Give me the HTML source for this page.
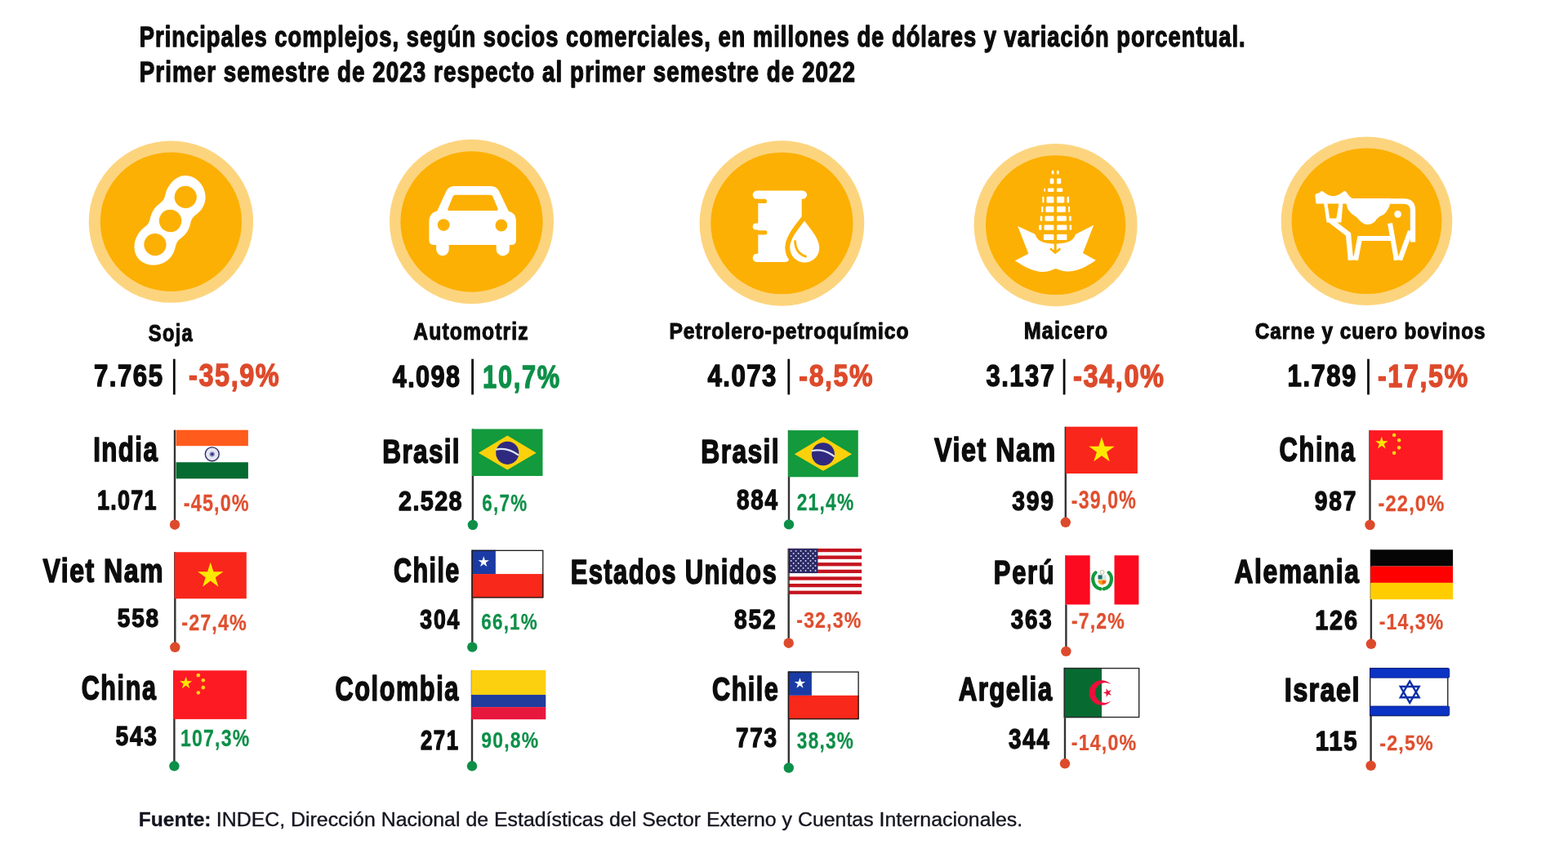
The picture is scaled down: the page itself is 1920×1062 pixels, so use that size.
<!DOCTYPE html>
<html lang="es"><head><meta charset="utf-8"><title>Principales complejos exportadores</title>
<style>
html,body{margin:0;padding:0;background:#fff;width:1920px;height:1062px;overflow:hidden}
svg{display:block;font-family:"Liberation Sans",Arial,sans-serif}

</style></head><body>
<svg width="1920" height="1062" viewBox="0 0 1920 1062">
<text transform="scale(0.7884,1)" x="216.57" y="57.15" font-size="34.67" font-weight="bold" fill="#0c0c0c" stroke="#0c0c0c" stroke-width="1.30" stroke-linejoin="round" textLength="1717.36" lengthAdjust="spacing">Principales complejos, según socios comerciales, en millones de dólares y variación porcentual.</text>
<text transform="scale(0.8129,1)" x="210.06" y="99.65" font-size="34.16" font-weight="bold" fill="#0c0c0c" stroke="#0c0c0c" stroke-width="1.30" stroke-linejoin="round" textLength="1078.01" lengthAdjust="spacing">Primer semestre de 2023 respecto al primer semestre de 2022</text>
<ellipse cx="209.4" cy="271.7" rx="100.7" ry="99.15" fill="#fdd47e"/>
<ellipse cx="209.4" cy="271.7" rx="86.6" ry="85.2" fill="#fcb003"/>
<ellipse cx="577.5" cy="271.5" rx="100.55" ry="100.65" fill="#fdd47e"/>
<ellipse cx="577.5" cy="271.5" rx="87.1" ry="86.15" fill="#fcb003"/>
<ellipse cx="957.4" cy="273.5" rx="100.85" ry="101.15" fill="#fdd47e"/>
<ellipse cx="957.4" cy="273.5" rx="87.1" ry="86.85" fill="#fcb003"/>
<ellipse cx="1292.6" cy="275.6" rx="100.0" ry="99.6" fill="#fdd47e"/>
<ellipse cx="1292.6" cy="275.6" rx="85.65" ry="85.45" fill="#fcb003"/>
<ellipse cx="1673.5" cy="270.85" rx="104.85" ry="103.25" fill="#fdd47e"/>
<ellipse cx="1673.5" cy="270.85" rx="91.95" ry="89.25" fill="#fcb003"/>
<g transform="translate(208.6,270.5) rotate(-57.35)"><path d="M60,-4 C59,-17 49,-24.5 34.5,-24.5 C26,-24.5 22,-21 17,-21 C12,-21 8,-24.5 0,-24.5 C-8,-24.5 -12,-21 -17,-21 C-22,-21 -26,-24.5 -34.5,-24.5 C-50,-24.5 -61,-14 -61,-2 C-61,12 -49,24.5 -34.5,24.5 C-26,24.5 -22,21 -17,21 C-12,21 -8,24.5 0,24.5 C8,24.5 12,21 17,21 C22,21 26,24.5 34.5,24.5 C49,24.5 61,11 60,-4 Z" fill="#ffffff"/><circle cx="34.55" cy="0" r="13.6" fill="#fcb003"/><circle cx="0" cy="0" r="13.7" fill="#fcb003"/><circle cx="-34.55" cy="0" r="13.6" fill="#fcb003"/></g>
<path d="M556,227.9 L601,227.9 Q608.5,227.9 611.5,235 L623,259 L535,259 L546,235 Q549,227.9 556,227.9 Z" fill="#ffffff"/>
<path d="M536,258.5 L622,258.5 Q632,260 632,272 L632,294 Q632,300 626,300 L531.4,300 Q525.4,300 525.4,294 L525.4,272 Q525.4,260 536,258.5 Z" fill="#ffffff"/>
<path d="M534.2,298 L549.7,298 L549.7,305.6 A7.75,7.75 0 0 1 534.2,305.6 Z" fill="#ffffff"/>
<path d="M607.7,298 L623.8,298 L623.8,305.4 A8.05,8.05 0 0 1 607.7,305.4 Z" fill="#ffffff"/>
<path d="M557.5,238.8 L600.5,238.8 Q602.5,238.8 603.3,240.5 L609.8,256 Q610,258 608,258 L550,258 Q548,258 548.3,256 L554.7,240.5 Q555.5,238.8 557.5,238.8 Z" fill="#fcb003"/>
<circle cx="543.2" cy="275.6" r="7.4" fill="#fcb003"/><circle cx="613.9" cy="276" r="7.4" fill="#fcb003"/>
<rect x="921.7" y="233.4" width="66.4" height="10.4" rx="5.2" fill="#ffffff"/>
<rect x="928.3" y="238" width="53.4" height="78" fill="#ffffff"/>
<rect x="921.7" y="273.4" width="20" height="8.2" rx="4.1" fill="#ffffff"/>
<rect x="921.7" y="310.8" width="45" height="10.2" rx="5.1" fill="#ffffff"/>
<rect x="924" y="243.8" width="15" height="5.2" rx="2.6" fill="#fcb003"/>
<rect x="924" y="282.2" width="15.4" height="5.2" rx="2.6" fill="#fcb003"/>
<path d="M985.1,270.5 C980,278 967.3,291 967.3,303.5 A18,18 0 0 0 1003.3,303.5 C1003.3,291 990,278 985.1,270.5 Z" fill="#fcb003" stroke="#fcb003" stroke-width="12" stroke-linejoin="round"/>
<path d="M985.1,270.5 C980,278 967.3,291 967.3,303.5 A18,18 0 0 0 1003.3,303.5 C1003.3,291 990,278 985.1,270.5 Z" fill="#ffffff"/>
<path d="M973.6,295.5 Q974,310 986.5,314.2" fill="none" stroke="#fcb003" stroke-width="2.8" stroke-linecap="round"/>
<path d="M1246.2,277.1 L1270,288 L1293,298 L1315,288 L1339.2,275.8 L1326,310.1 L1341.8,318.7 C1330,327 1318,333 1306,332.5 C1300,332 1296,330 1293,329 C1289,330 1284,333 1278,333 C1266,333 1254,327 1242.9,319.3 L1259.4,310.8 Z" fill="#ffffff"/>
<path d="M1292.2,203.5 C1301,203.5 1318,250 1317,285 C1316.5,295 1306,298.5 1292.2,298.5 C1278,298.5 1268,295 1267.5,285 C1267,250 1284,203.5 1292.2,203.5 Z" fill="#fcb003"/>
<rect x="1287.80" y="208.7" width="2.6" height="4.70" rx="1.2" fill="#ffffff"/><rect x="1294" y="208.7" width="2.6" height="4.70" rx="1.2" fill="#ffffff"/><rect x="1285.70" y="218.5" width="4.7" height="6.80" rx="1.2" fill="#ffffff"/><rect x="1294" y="218.5" width="5.2" height="6.80" rx="1.2" fill="#ffffff"/><rect x="1283.10" y="230.4" width="7.3" height="4.70" rx="1.2" fill="#ffffff"/><rect x="1294" y="230.4" width="7.2" height="4.70" rx="1.2" fill="#ffffff"/><rect x="1278.40" y="230.4" width="1.5" height="4.70" rx="1" fill="#ffffff"/><rect x="1281.60" y="240.8" width="8.8" height="7.70" rx="1.2" fill="#ffffff"/><rect x="1294" y="240.8" width="9.3" height="7.70" rx="1.2" fill="#ffffff"/><rect x="1276.40" y="240.8" width="2.0" height="7.70" rx="1" fill="#ffffff"/><rect x="1306.50" y="240.8" width="2.6" height="7.70" rx="1" fill="#ffffff"/><rect x="1280.50" y="252.7" width="9.9" height="7.20" rx="1.2" fill="#ffffff"/><rect x="1294" y="252.7" width="10.9" height="7.20" rx="1.2" fill="#ffffff"/><rect x="1275.20" y="252.7" width="2.1" height="7.20" rx="1" fill="#ffffff"/><rect x="1308.10" y="252.7" width="2.0" height="7.20" rx="1" fill="#ffffff"/><rect x="1279.50" y="264.6" width="10.9" height="6.20" rx="1.2" fill="#ffffff"/><rect x="1294" y="264.6" width="11.9" height="6.20" rx="1.2" fill="#ffffff"/><rect x="1273.70" y="264.6" width="2.6" height="6.20" rx="1" fill="#ffffff"/><rect x="1309.10" y="264.6" width="2.6" height="6.20" rx="1" fill="#ffffff"/><rect x="1278.50" y="275.5" width="11.9" height="6.20" rx="1.2" fill="#ffffff"/><rect x="1294" y="275.5" width="12.4" height="6.20" rx="1.2" fill="#ffffff"/><rect x="1272.20" y="275.5" width="3.1" height="6.20" rx="1" fill="#ffffff"/><rect x="1309.60" y="275.5" width="2.6" height="6.20" rx="1" fill="#ffffff"/><rect x="1277.90" y="286.9" width="12.5" height="7.20" rx="1.2" fill="#ffffff"/><rect x="1294" y="286.9" width="12.4" height="7.20" rx="1.2" fill="#ffffff"/><line x1="1292.2" y1="297" x2="1292.2" y2="308" stroke="#fcb003" stroke-width="3"/><path d="M1286,304.5 L1292.2,309.5 L1298.4,304.5" fill="none" stroke="#fcb003" stroke-width="2.6"/>
<path d="M1611,245 L1610.4,240 Q1610.4,237 1613,237 L1616,236 L1617,234.6 Q1618.5,233.4 1620,234.6 Q1632.5,246 1645,234.6 Q1646.8,233.4 1648.4,235 L1652,240 L1656,243.4 L1656,249.5 L1612,249.5 Q1610.6,248.5 1611,245 Z" fill="#ffffff"/><path d="M1620.7,246 L1644.6,246 L1642.4,272.5 L1624.5,272.5 Z M1625.4,249 L1628.2,267.4 L1636.3,267.4 L1639.5,249 Z" fill="#ffffff" fill-rule="evenodd"/><path d="M1650,246.5 L1719,246.5 Q1730,246.5 1730,258 L1730,296.5" fill="none" stroke="#ffffff" stroke-width="6.4"/><path d="M1647,243 L1702,243 L1701.7,251.4 C1700,256 1697,261 1694,263 C1689,265 1686.6,267 1684,271 C1681,274 1677,275.5 1673,275 C1668,274 1665,270 1662,267 C1658,263 1653,262 1650,255 Z" fill="#ffffff"/><circle cx="1711.6" cy="262.4" r="4.3" fill="#ffffff"/><path d="M1629,270 L1651,287 L1654,318.5" fill="none" stroke="#ffffff" stroke-width="6.4" stroke-linejoin="miter"/><path d="M1660,318.5 L1665,292 L1708,292" fill="none" stroke="#ffffff" stroke-width="6.2"/><rect x="1650.8" y="313.5" width="11" height="5" fill="#ffffff"/><path d="M1702,273.5 L1710,318.5" fill="none" stroke="#ffffff" stroke-width="6"/><path d="M1727,283 L1714,318.5" fill="none" stroke="#ffffff" stroke-width="6.2"/><rect x="1706.5" y="313.5" width="10.5" height="5" fill="#ffffff"/>
<text transform="scale(0.7915,1)" x="229.77" y="417.95" font-size="29.94" font-weight="bold" fill="#0c0c0c" stroke="#0c0c0c" stroke-width="1.10" stroke-linejoin="round" textLength="68.01" lengthAdjust="spacing">Soja</text>
<text transform="scale(0.8363,1)" x="137.54" y="473.30" font-size="37.35" font-weight="bold" fill="#0c0c0c" stroke="#0c0c0c" stroke-width="1.40" stroke-linejoin="round" textLength="100.51" lengthAdjust="spacing">7.765</text>
<rect x="211.90" y="439.7" width="2.8" height="43.7" fill="#0c0c0c"/>
<text transform="scale(0.8464,1)" x="272.97" y="472.85" font-size="38.37" font-weight="bold" fill="#dd4a2b" stroke="#dd4a2b" stroke-width="1.30" stroke-linejoin="round" textLength="130.73" lengthAdjust="spacing">-35,9%</text>
<text transform="scale(0.8339,1)" x="607.23" y="416.15" font-size="29.65" font-weight="bold" fill="#0c0c0c" stroke="#0c0c0c" stroke-width="1.10" stroke-linejoin="round" textLength="168.24" lengthAdjust="spacing">Automotriz</text>
<text transform="scale(0.8116,1)" x="592.32" y="474.50" font-size="37.65" font-weight="bold" fill="#0c0c0c" stroke="#0c0c0c" stroke-width="1.40" stroke-linejoin="round" textLength="101.30" lengthAdjust="spacing">4.098</text>
<rect x="577.20" y="439.7" width="2.8" height="43.7" fill="#0c0c0c"/>
<text transform="scale(0.7981,1)" x="740.65" y="474.55" font-size="38.66" font-weight="bold" fill="#0d8f48" stroke="#0d8f48" stroke-width="1.30" stroke-linejoin="round" textLength="117.88" lengthAdjust="spacing">10,7%</text>
<text transform="scale(0.8929,1)" x="917.71" y="414.85" font-size="27.62" font-weight="bold" fill="#0c0c0c" stroke="#0c0c0c" stroke-width="1.10" stroke-linejoin="round" textLength="328.33" lengthAdjust="spacing">Petrolero-petroquímico</text>
<text transform="scale(0.8495,1)" x="1019.93" y="472.90" font-size="36.77" font-weight="bold" fill="#0c0c0c" stroke="#0c0c0c" stroke-width="1.40" stroke-linejoin="round" textLength="98.95" lengthAdjust="spacing">4.073</text>
<rect x="964.40" y="439.7" width="2.8" height="43.7" fill="#0c0c0c"/>
<text transform="scale(0.8500,1)" x="1151.02" y="472.95" font-size="37.79" font-weight="bold" fill="#dd4a2b" stroke="#dd4a2b" stroke-width="1.30" stroke-linejoin="round" textLength="106.15" lengthAdjust="spacing">-8,5%</text>
<text transform="scale(0.8501,1)" x="1474.69" y="414.95" font-size="29.65" font-weight="bold" fill="#0c0c0c" stroke="#0c0c0c" stroke-width="1.10" stroke-linejoin="round" textLength="120.50" lengthAdjust="spacing">Maicero</text>
<text transform="scale(0.8213,1)" x="1470.12" y="473.50" font-size="37.79" font-weight="bold" fill="#0c0c0c" stroke="#0c0c0c" stroke-width="1.40" stroke-linejoin="round" textLength="101.69" lengthAdjust="spacing">3.137</text>
<rect x="1301.70" y="439.7" width="2.8" height="43.7" fill="#0c0c0c"/>
<text transform="scale(0.8597,1)" x="1528.45" y="473.55" font-size="37.94" font-weight="bold" fill="#dd4a2b" stroke="#dd4a2b" stroke-width="1.30" stroke-linejoin="round" textLength="129.25" lengthAdjust="spacing">-34,0%</text>
<text transform="scale(0.8711,1)" x="1764.21" y="414.75" font-size="27.91" font-weight="bold" fill="#0c0c0c" stroke="#0c0c0c" stroke-width="1.10" stroke-linejoin="round" textLength="323.51" lengthAdjust="spacing">Carne y cuero bovinos</text>
<text transform="scale(0.8274,1)" x="1905.48" y="473.20" font-size="37.65" font-weight="bold" fill="#0c0c0c" stroke="#0c0c0c" stroke-width="1.40" stroke-linejoin="round" textLength="101.30" lengthAdjust="spacing">1.789</text>
<rect x="1674.10" y="439.7" width="2.8" height="43.7" fill="#0c0c0c"/>
<text transform="scale(0.8366,1)" x="2016.56" y="473.85" font-size="38.66" font-weight="bold" fill="#dd4a2b" stroke="#dd4a2b" stroke-width="1.30" stroke-linejoin="round" textLength="131.72" lengthAdjust="spacing">-17,5%</text>
<text transform="scale(0.7534,1)" x="151.69" y="565.50" font-size="41.57" font-weight="bold" fill="#0c0c0c" stroke="#0c0c0c" stroke-width="1.60" stroke-linejoin="round" textLength="104.32" lengthAdjust="spacing">India</text>
<rect x="212.80" y="526.70" width="2.4" height="116.00" fill="#333333"/>
<g transform="translate(215.60,526.70)"><rect width="88.3" height="19.77" fill="#ff5b1c"/><rect y="19.77" width="88.3" height="19.77" fill="#fff"/><rect y="39.53" width="88.3" height="20.07" fill="#066b30"/><circle cx="44.15" cy="29.65" r="8.47" fill="#e6e6f4" stroke="#2f2f66" stroke-width="1.4"/><circle cx="44.15" cy="29.65" r="3.2" fill="#8a8ac0"/><circle cx="44.15" cy="29.65" r="1.5" fill="#2a2a70"/></g>
<text transform="scale(0.7994,1)" x="148.93" y="623.75" font-size="33.72" font-weight="bold" fill="#0c0c0c" stroke="#0c0c0c" stroke-width="1.30" stroke-linejoin="round" textLength="90.74" lengthAdjust="spacing">1.071</text>
<text transform="scale(0.8125,1)" x="276.72" y="625.98" font-size="28.85" font-weight="bold" fill="#df4f2f" stroke="#df4f2f" stroke-width="0.25" stroke-linejoin="round" textLength="98.30" lengthAdjust="spacing">-45,0%</text>
<circle cx="214.00" cy="642.70" r="6.2" fill="#dd4a2b"/>
<text transform="scale(0.7917,1)" x="66.36" y="712.80" font-size="40.55" font-weight="bold" fill="#0c0c0c" stroke="#0c0c0c" stroke-width="1.60" stroke-linejoin="round" textLength="185.81" lengthAdjust="spacing">Viet Nam</text>
<rect x="213.10" y="676.30" width="2.4" height="116.50" fill="#333333"/>
<g transform="translate(213.70,676.30)"><rect width="88.1" height="57.0" fill="#f9261b"/><polygon points="44.05,12.47 47.76,23.89 59.77,23.89 50.06,30.95 53.77,42.37 44.05,35.31 34.33,42.37 38.04,30.95 28.33,23.89 40.34,23.89" fill="#ffe800"/></g>
<text transform="scale(0.8810,1)" x="163.27" y="767.75" font-size="31.83" font-weight="bold" fill="#0c0c0c" stroke="#0c0c0c" stroke-width="1.30" stroke-linejoin="round" textLength="57.11" lengthAdjust="spacing">558</text>
<text transform="scale(0.8565,1)" x="259.54" y="771.88" font-size="27.25" font-weight="bold" fill="#df4f2f" stroke="#df4f2f" stroke-width="0.25" stroke-linejoin="round" textLength="92.85" lengthAdjust="spacing">-27,4%</text>
<circle cx="214.30" cy="792.80" r="6.2" fill="#dd4a2b"/>
<text transform="scale(0.7293,1)" x="136.66" y="856.60" font-size="41.86" font-weight="bold" fill="#0c0c0c" stroke="#0c0c0c" stroke-width="1.60" stroke-linejoin="round" textLength="125.06" lengthAdjust="spacing">China</text>
<rect x="212.20" y="821.30" width="2.4" height="117.00" fill="#333333"/>
<g transform="translate(212.60,821.30)"><rect width="89.4" height="59.6" fill="#fd1a22"/><polygon points="15.02,7.45 16.83,13.01 22.67,13.01 17.94,16.45 19.75,22.01 15.02,18.57 10.29,22.01 12.10,16.45 7.37,13.01 13.21,13.01" fill="#ffe600"/><circle cx="30.22" cy="5.84" r="2.3" fill="#ffd21a"/><circle cx="36.21" cy="11.92" r="2.3" fill="#ffd21a"/><circle cx="36.21" cy="20.86" r="2.3" fill="#ffd21a"/><circle cx="30.22" cy="27.24" r="2.3" fill="#ffd21a"/></g>
<text transform="scale(0.8324,1)" x="169.96" y="913.45" font-size="33.87" font-weight="bold" fill="#0c0c0c" stroke="#0c0c0c" stroke-width="1.30" stroke-linejoin="round" textLength="60.76" lengthAdjust="spacing">543</text>
<text transform="scale(0.7985,1)" x="276.89" y="913.98" font-size="28.85" font-weight="bold" fill="#0d8f48" stroke="#0d8f48" stroke-width="0.25" stroke-linejoin="round" textLength="105.22" lengthAdjust="spacing">107,3%</text>
<circle cx="213.40" cy="938.30" r="6.2" fill="#0d8f48"/>
<text transform="scale(0.7667,1)" x="610.87" y="566.90" font-size="41.13" font-weight="bold" fill="#0c0c0c" stroke="#0c0c0c" stroke-width="1.60" stroke-linejoin="round" textLength="122.93" lengthAdjust="spacing">Brasil</text>
<rect x="577.70" y="525.50" width="2.4" height="117.50" fill="#333333"/>
<g transform="translate(578.10,525.50)"><rect width="86.4" height="57.5" fill="#129a3d"/><polygon points="7.78,29.32 43.20,8.05 78.62,29.32 43.20,50.02" fill="#fbd10c"/><circle cx="43.20" cy="29.32" r="14.09" fill="#2f2a80"/><path d="M29.11,25.30 Q43.20,21.85 57.00,32.20" stroke="#dfe6f5" stroke-width="2.2" fill="none"/></g>
<text transform="scale(0.8541,1)" x="571.40" y="625.25" font-size="33.72" font-weight="bold" fill="#0c0c0c" stroke="#0c0c0c" stroke-width="1.30" stroke-linejoin="round" textLength="90.74" lengthAdjust="spacing">2.528</text>
<text transform="scale(0.7730,1)" x="763.66" y="626.38" font-size="29.00" font-weight="bold" fill="#0d8f48" stroke="#0d8f48" stroke-width="0.25" stroke-linejoin="round" textLength="71.07" lengthAdjust="spacing">6,7%</text>
<circle cx="578.90" cy="643.00" r="6.2" fill="#0d8f48"/>
<text transform="scale(0.7221,1)" x="667.58" y="713.10" font-size="42.30" font-weight="bold" fill="#0c0c0c" stroke="#0c0c0c" stroke-width="1.60" stroke-linejoin="round" textLength="111.19" lengthAdjust="spacing">Chile</text>
<rect x="577.10" y="673.75" width="2.4" height="118.85" fill="#333333"/>
<g transform="translate(577.60,673.75)"><rect width="87.8" height="29.32" fill="#fff"/><rect y="29.32" width="87.8" height="29.32" fill="#f8281a"/><rect width="29.27" height="29.32" fill="#1b3ba4"/><polygon points="14.63,7.62 16.21,12.49 21.33,12.49 17.19,15.49 18.77,20.36 14.63,17.35 10.50,20.36 12.08,15.49 7.94,12.49 13.05,12.49" fill="#fff"/><rect x="0.6" y="0.6" width="86.60" height="57.45" fill="none" stroke="#1a1a1a" stroke-width="1.3"/></g>
<text transform="scale(0.8098,1)" x="635.17" y="770.05" font-size="32.99" font-weight="bold" fill="#0c0c0c" stroke="#0c0c0c" stroke-width="1.30" stroke-linejoin="round" textLength="59.19" lengthAdjust="spacing">304</text>
<text transform="scale(0.7950,1)" x="741.21" y="770.58" font-size="28.27" font-weight="bold" fill="#0d8f48" stroke="#0d8f48" stroke-width="0.25" stroke-linejoin="round" textLength="86.19" lengthAdjust="spacing">66,1%</text>
<circle cx="578.30" cy="792.60" r="6.2" fill="#0d8f48"/>
<text transform="scale(0.7276,1)" x="564.28" y="858.10" font-size="42.30" font-weight="bold" fill="#0c0c0c" stroke="#0c0c0c" stroke-width="1.60" stroke-linejoin="round" textLength="207.22" lengthAdjust="spacing">Colombia</text>
<rect x="576.80" y="820.90" width="2.4" height="117.40" fill="#333333"/>
<g transform="translate(577.20,820.90)"><rect width="91.1" height="30.15" fill="#fdd00f"/><rect y="30.15" width="91.1" height="15.07" fill="#203c9c"/><rect y="45.22" width="91.1" height="15.07" fill="#e8173d"/></g>
<text transform="scale(0.7590,1)" x="678.38" y="917.95" font-size="34.01" font-weight="bold" fill="#0c0c0c" stroke="#0c0c0c" stroke-width="1.30" stroke-linejoin="round" textLength="61.02" lengthAdjust="spacing">271</text>
<text transform="scale(0.8105,1)" x="726.99" y="915.58" font-size="28.27" font-weight="bold" fill="#0d8f48" stroke="#0d8f48" stroke-width="0.25" stroke-linejoin="round" textLength="86.19" lengthAdjust="spacing">90,8%</text>
<circle cx="578.00" cy="938.30" r="6.2" fill="#0d8f48"/>
<text transform="scale(0.7742,1)" x="1108.71" y="566.90" font-size="41.13" font-weight="bold" fill="#0c0c0c" stroke="#0c0c0c" stroke-width="1.60" stroke-linejoin="round" textLength="122.93" lengthAdjust="spacing">Brasil</text>
<rect x="964.80" y="527.10" width="2.4" height="115.30" fill="#333333"/>
<g transform="translate(965.10,527.10)"><rect width="85.7" height="57.2" fill="#129a3d"/><polygon points="7.71,29.17 42.85,8.01 77.99,29.17 42.85,49.76" fill="#fbd10c"/><circle cx="42.85" cy="29.17" r="14.01" fill="#2f2a80"/><path d="M28.84,25.17 Q42.85,21.74 56.58,32.03" stroke="#dfe6f5" stroke-width="2.2" fill="none"/></g>
<text transform="scale(0.8094,1)" x="1114.34" y="624.05" font-size="34.59" font-weight="bold" fill="#0c0c0c" stroke="#0c0c0c" stroke-width="1.30" stroke-linejoin="round" textLength="62.06" lengthAdjust="spacing">884</text>
<text transform="scale(0.7859,1)" x="1241.55" y="624.58" font-size="29.00" font-weight="bold" fill="#0d8f48" stroke="#0d8f48" stroke-width="0.25" stroke-linejoin="round" textLength="88.41" lengthAdjust="spacing">21,4%</text>
<circle cx="966.00" cy="642.40" r="6.2" fill="#0d8f48"/>
<text transform="scale(0.7330,1)" x="953.27" y="714.70" font-size="42.30" font-weight="bold" fill="#0c0c0c" stroke="#0c0c0c" stroke-width="1.60" stroke-linejoin="round" textLength="343.68" lengthAdjust="spacing">Estados Unidos</text>
<rect x="964.50" y="671.90" width="2.4" height="115.80" fill="#333333"/>
<g transform="translate(965.70,671.90)"><rect width="89.4" height="56.0" fill="#fff"/><rect y="0.00" width="89.4" height="4.31" fill="#c4141f"/><rect y="8.62" width="89.4" height="4.31" fill="#c4141f"/><rect y="17.23" width="89.4" height="4.31" fill="#c4141f"/><rect y="25.85" width="89.4" height="4.31" fill="#c4141f"/><rect y="34.46" width="89.4" height="4.31" fill="#c4141f"/><rect y="43.08" width="89.4" height="4.31" fill="#c4141f"/><rect y="51.69" width="89.4" height="4.31" fill="#c4141f"/><rect width="35.76" height="30.15" fill="#2b2a66"/><circle cx="2.98" cy="3.02" r="0.95" fill="#d8d8f0"/><circle cx="8.94" cy="3.02" r="0.95" fill="#d8d8f0"/><circle cx="14.90" cy="3.02" r="0.95" fill="#d8d8f0"/><circle cx="20.86" cy="3.02" r="0.95" fill="#d8d8f0"/><circle cx="26.82" cy="3.02" r="0.95" fill="#d8d8f0"/><circle cx="32.78" cy="3.02" r="0.95" fill="#d8d8f0"/><circle cx="5.96" cy="6.03" r="0.95" fill="#d8d8f0"/><circle cx="11.92" cy="6.03" r="0.95" fill="#d8d8f0"/><circle cx="17.88" cy="6.03" r="0.95" fill="#d8d8f0"/><circle cx="23.84" cy="6.03" r="0.95" fill="#d8d8f0"/><circle cx="29.80" cy="6.03" r="0.95" fill="#d8d8f0"/><circle cx="2.98" cy="9.05" r="0.95" fill="#d8d8f0"/><circle cx="8.94" cy="9.05" r="0.95" fill="#d8d8f0"/><circle cx="14.90" cy="9.05" r="0.95" fill="#d8d8f0"/><circle cx="20.86" cy="9.05" r="0.95" fill="#d8d8f0"/><circle cx="26.82" cy="9.05" r="0.95" fill="#d8d8f0"/><circle cx="32.78" cy="9.05" r="0.95" fill="#d8d8f0"/><circle cx="5.96" cy="12.06" r="0.95" fill="#d8d8f0"/><circle cx="11.92" cy="12.06" r="0.95" fill="#d8d8f0"/><circle cx="17.88" cy="12.06" r="0.95" fill="#d8d8f0"/><circle cx="23.84" cy="12.06" r="0.95" fill="#d8d8f0"/><circle cx="29.80" cy="12.06" r="0.95" fill="#d8d8f0"/><circle cx="2.98" cy="15.08" r="0.95" fill="#d8d8f0"/><circle cx="8.94" cy="15.08" r="0.95" fill="#d8d8f0"/><circle cx="14.90" cy="15.08" r="0.95" fill="#d8d8f0"/><circle cx="20.86" cy="15.08" r="0.95" fill="#d8d8f0"/><circle cx="26.82" cy="15.08" r="0.95" fill="#d8d8f0"/><circle cx="32.78" cy="15.08" r="0.95" fill="#d8d8f0"/><circle cx="5.96" cy="18.09" r="0.95" fill="#d8d8f0"/><circle cx="11.92" cy="18.09" r="0.95" fill="#d8d8f0"/><circle cx="17.88" cy="18.09" r="0.95" fill="#d8d8f0"/><circle cx="23.84" cy="18.09" r="0.95" fill="#d8d8f0"/><circle cx="29.80" cy="18.09" r="0.95" fill="#d8d8f0"/><circle cx="2.98" cy="21.11" r="0.95" fill="#d8d8f0"/><circle cx="8.94" cy="21.11" r="0.95" fill="#d8d8f0"/><circle cx="14.90" cy="21.11" r="0.95" fill="#d8d8f0"/><circle cx="20.86" cy="21.11" r="0.95" fill="#d8d8f0"/><circle cx="26.82" cy="21.11" r="0.95" fill="#d8d8f0"/><circle cx="32.78" cy="21.11" r="0.95" fill="#d8d8f0"/><circle cx="5.96" cy="24.12" r="0.95" fill="#d8d8f0"/><circle cx="11.92" cy="24.12" r="0.95" fill="#d8d8f0"/><circle cx="17.88" cy="24.12" r="0.95" fill="#d8d8f0"/><circle cx="23.84" cy="24.12" r="0.95" fill="#d8d8f0"/><circle cx="29.80" cy="24.12" r="0.95" fill="#d8d8f0"/><circle cx="2.98" cy="27.14" r="0.95" fill="#d8d8f0"/><circle cx="8.94" cy="27.14" r="0.95" fill="#d8d8f0"/><circle cx="14.90" cy="27.14" r="0.95" fill="#d8d8f0"/><circle cx="20.86" cy="27.14" r="0.95" fill="#d8d8f0"/><circle cx="26.82" cy="27.14" r="0.95" fill="#d8d8f0"/><circle cx="32.78" cy="27.14" r="0.95" fill="#d8d8f0"/><rect x="0" y="0" width="1" height="56.0" fill="#222"/></g>
<text transform="scale(0.8403,1)" x="1069.82" y="769.85" font-size="33.58" font-weight="bold" fill="#0c0c0c" stroke="#0c0c0c" stroke-width="1.30" stroke-linejoin="round" textLength="60.24" lengthAdjust="spacing">852</text>
<text transform="scale(0.8598,1)" x="1134.34" y="768.77" font-size="26.96" font-weight="bold" fill="#df4f2f" stroke="#df4f2f" stroke-width="0.25" stroke-linejoin="round" textLength="91.86" lengthAdjust="spacing">-32,3%</text>
<circle cx="965.70" cy="787.70" r="6.2" fill="#dd4a2b"/>
<text transform="scale(0.7521,1)" x="1159.51" y="858.00" font-size="40.84" font-weight="bold" fill="#0c0c0c" stroke="#0c0c0c" stroke-width="1.60" stroke-linejoin="round" textLength="107.37" lengthAdjust="spacing">Chile</text>
<rect x="964.60" y="822.50" width="2.4" height="118.00" fill="#333333"/>
<g transform="translate(965.00,822.50)"><rect width="86.7" height="29.35" fill="#fff"/><rect y="29.35" width="86.7" height="29.35" fill="#f8281a"/><rect width="28.90" height="29.35" fill="#1b3ba4"/><polygon points="14.45,7.63 16.03,12.50 21.15,12.50 17.01,15.51 18.59,20.37 14.45,17.37 10.31,20.37 11.89,15.51 7.75,12.50 12.87,12.50" fill="#fff"/><rect x="0.6" y="0.6" width="85.50" height="57.50" fill="none" stroke="#1a1a1a" stroke-width="1.3"/></g>
<text transform="scale(0.8535,1)" x="1055.62" y="914.85" font-size="32.70" font-weight="bold" fill="#0c0c0c" stroke="#0c0c0c" stroke-width="1.30" stroke-linejoin="round" textLength="58.67" lengthAdjust="spacing">773</text>
<text transform="scale(0.7721,1)" x="1263.92" y="917.27" font-size="29.29" font-weight="bold" fill="#0d8f48" stroke="#0d8f48" stroke-width="0.25" stroke-linejoin="round" textLength="89.29" lengthAdjust="spacing">38,3%</text>
<circle cx="965.80" cy="940.50" r="6.2" fill="#0d8f48"/>
<text transform="scale(0.7776,1)" x="1471.27" y="565.50" font-size="41.57" font-weight="bold" fill="#0c0c0c" stroke="#0c0c0c" stroke-width="1.60" stroke-linejoin="round" textLength="190.47" lengthAdjust="spacing">Viet Nam</text>
<rect x="1303.60" y="522.70" width="2.4" height="117.10" fill="#333333"/>
<g transform="translate(1305.10,522.70)"><rect width="87.8" height="57.3" fill="#f9261b"/><polygon points="43.90,12.53 47.63,24.01 59.70,24.02 49.94,31.11 53.67,42.59 43.90,35.50 34.13,42.59 37.86,31.11 28.10,24.02 40.17,24.01" fill="#ffe800"/></g>
<text transform="scale(0.8564,1)" x="1447.13" y="624.85" font-size="32.99" font-weight="bold" fill="#0c0c0c" stroke="#0c0c0c" stroke-width="1.30" stroke-linejoin="round" textLength="59.19" lengthAdjust="spacing">399</text>
<text transform="scale(0.7609,1)" x="1724.08" y="622.58" font-size="30.45" font-weight="bold" fill="#df4f2f" stroke="#df4f2f" stroke-width="0.25" stroke-linejoin="round" textLength="103.74" lengthAdjust="spacing">-39,0%</text>
<circle cx="1304.80" cy="639.80" r="6.2" fill="#dd4a2b"/>
<text transform="scale(0.7561,1)" x="1609.37" y="714.70" font-size="40.84" font-weight="bold" fill="#0c0c0c" stroke="#0c0c0c" stroke-width="1.60" stroke-linejoin="round" textLength="97.63" lengthAdjust="spacing">Perú</text>
<rect x="1304.20" y="680.30" width="2.4" height="117.60" fill="#333333"/>
<g transform="translate(1304.80,680.30)"><rect width="89.6" height="60.2" fill="#fff"/><rect width="29.87" height="60.2" fill="#fc0a1f"/><rect x="59.73" width="29.87" height="60.2" fill="#fc0a1f"/><path d="M36.80,21.10 C30.80,26.10 32.80,39.10 42.80,41.10" fill="none" stroke="#139a3f" stroke-width="4.2" stroke-linecap="round"/><path d="M52.80,21.10 C58.80,26.10 56.80,39.10 46.80,41.10" fill="none" stroke="#139a3f" stroke-width="4.2" stroke-linecap="round"/><circle cx="44.80" cy="20.60" r="2.4" fill="none" stroke="#b8b8a0" stroke-width="1"/><rect x="39.80" y="24.10" width="10" height="6" fill="#d6e8e0"/><rect x="39.80" y="24.10" width="5" height="5" fill="#1d6e6a"/><path d="M39.80,30.10 L49.80,30.10 L49.80,33.10 Q44.80,39.10 39.80,33.10 Z" fill="#f2a21c"/><circle cx="46.80" cy="32.60" r="2.2" fill="#f05a1a"/></g>
<text transform="scale(0.8528,1)" x="1451.53" y="769.55" font-size="32.56" font-weight="bold" fill="#0c0c0c" stroke="#0c0c0c" stroke-width="1.30" stroke-linejoin="round" textLength="58.41" lengthAdjust="spacing">363</text>
<text transform="scale(0.8438,1)" x="1554.74" y="770.08" font-size="27.40" font-weight="bold" fill="#df4f2f" stroke="#df4f2f" stroke-width="0.25" stroke-linejoin="round" textLength="76.96" lengthAdjust="spacing">-7,2%</text>
<circle cx="1305.40" cy="797.90" r="6.2" fill="#dd4a2b"/>
<text transform="scale(0.7678,1)" x="1528.73" y="858.00" font-size="40.84" font-weight="bold" fill="#0c0c0c" stroke="#0c0c0c" stroke-width="1.60" stroke-linejoin="round" textLength="148.91" lengthAdjust="spacing">Argelia</text>
<rect x="1302.80" y="817.90" width="2.4" height="117.40" fill="#333333"/>
<g transform="translate(1302.70,817.90)"><rect width="92.7" height="61.3" fill="#fff"/><rect width="46.35" height="61.3" fill="#076b31"/><path d="M57.63,20.37 A15.3,15.3 0 1 0 57.63,40.93 A12.4,12.4 0 1 1 57.63,20.37 Z" fill="#ec0f3c"/><polygon points="51.92,25.32 54.31,28.62 58.18,27.36 55.79,30.65 58.18,33.94 54.31,32.68 51.92,35.98 51.92,31.91 48.05,30.65 51.92,29.39" fill="#ec0f3c"/><rect x="0.7" y="0.7" width="91.30" height="59.90" fill="none" stroke="#2a2a2a" stroke-width="1.4"/></g>
<text transform="scale(0.8080,1)" x="1528.36" y="917.45" font-size="34.45" font-weight="bold" fill="#0c0c0c" stroke="#0c0c0c" stroke-width="1.30" stroke-linejoin="round" textLength="61.80" lengthAdjust="spacing">344</text>
<text transform="scale(0.8248,1)" x="1590.42" y="919.27" font-size="28.27" font-weight="bold" fill="#df4f2f" stroke="#df4f2f" stroke-width="0.25" stroke-linejoin="round" textLength="96.31" lengthAdjust="spacing">-14,0%</text>
<circle cx="1304.00" cy="935.30" r="6.2" fill="#dd4a2b"/>
<text transform="scale(0.7353,1)" x="2130.52" y="565.40" font-size="42.01" font-weight="bold" fill="#0c0c0c" stroke="#0c0c0c" stroke-width="1.60" stroke-linejoin="round" textLength="125.49" lengthAdjust="spacing">China</text>
<rect x="1676.30" y="527.10" width="2.4" height="115.90" fill="#333333"/>
<g transform="translate(1676.70,527.10)"><rect width="89.9" height="60.7" fill="#fd1a22"/><polygon points="15.10,7.59 16.94,13.25 22.90,13.25 18.08,16.75 19.92,22.41 15.10,18.91 10.29,22.41 12.13,16.75 7.31,13.25 13.26,13.25" fill="#ffe600"/><circle cx="30.39" cy="5.95" r="2.3" fill="#ffd21a"/><circle cx="36.41" cy="12.14" r="2.3" fill="#ffd21a"/><circle cx="36.41" cy="21.25" r="2.3" fill="#ffd21a"/><circle cx="30.39" cy="27.74" r="2.3" fill="#ffd21a"/></g>
<text transform="scale(0.8330,1)" x="1932.43" y="625.35" font-size="33.87" font-weight="bold" fill="#0c0c0c" stroke="#0c0c0c" stroke-width="1.30" stroke-linejoin="round" textLength="60.76" lengthAdjust="spacing">987</text>
<text transform="scale(0.8663,1)" x="1947.89" y="625.98" font-size="27.40" font-weight="bold" fill="#df4f2f" stroke="#df4f2f" stroke-width="0.25" stroke-linejoin="round" textLength="93.34" lengthAdjust="spacing">-22,0%</text>
<circle cx="1677.50" cy="643.00" r="6.2" fill="#dd4a2b"/>
<text transform="scale(0.7882,1)" x="1917.78" y="714.00" font-size="40.41" font-weight="bold" fill="#0c0c0c" stroke="#0c0c0c" stroke-width="1.60" stroke-linejoin="round" textLength="193.20" lengthAdjust="spacing">Alemania</text>
<rect x="1677.70" y="673.30" width="2.4" height="115.50" fill="#333333"/>
<g transform="translate(1678.20,673.30)"><rect width="100.9" height="20.30" fill="#050505"/><rect y="20.30" width="100.9" height="20.30" fill="#fe0000"/><rect y="40.60" width="100.9" height="20.30" fill="#ffcc00"/></g>
<text transform="scale(0.8687,1)" x="1853.57" y="770.85" font-size="33.28" font-weight="bold" fill="#0c0c0c" stroke="#0c0c0c" stroke-width="1.30" stroke-linejoin="round" textLength="59.71" lengthAdjust="spacing">126</text>
<text transform="scale(0.8502,1)" x="1986.33" y="770.58" font-size="27.11" font-weight="bold" fill="#df4f2f" stroke="#df4f2f" stroke-width="0.25" stroke-linejoin="round" textLength="92.35" lengthAdjust="spacing">-14,3%</text>
<circle cx="1678.90" cy="788.80" r="6.2" fill="#dd4a2b"/>
<text transform="scale(0.7987,1)" x="1969.23" y="859.30" font-size="40.84" font-weight="bold" fill="#0c0c0c" stroke="#0c0c0c" stroke-width="1.60" stroke-linejoin="round" textLength="114.77" lengthAdjust="spacing">Israel</text>
<rect x="1677.40" y="818.60" width="2.4" height="119.30" fill="#333333"/>
<g transform="translate(1677.70,818.60)"><rect width="97.1" height="58.0" fill="#fff"/><rect x="0" y="0" width="95.10" height="58.0" fill="none" stroke="#151515" stroke-width="1.3"/><rect width="97.1" height="11.60" rx="1.5" fill="#0b33c4" stroke="#0a1f80" stroke-width="0.8"/><rect y="46.40" width="97.1" height="11.60" rx="1.5" fill="#0b33c4" stroke="#0a1f80" stroke-width="0.8"/><polygon points="48.55,15.80 59.98,35.60 37.12,35.60" fill="none" stroke="#0b2ea8" stroke-width="2.4"/><polygon points="48.55,42.20 37.12,22.40 59.98,22.40" fill="none" stroke="#0b2ea8" stroke-width="2.4"/></g>
<text transform="scale(0.9028,1)" x="1784.09" y="918.75" font-size="32.56" font-weight="bold" fill="#0c0c0c" stroke="#0c0c0c" stroke-width="1.30" stroke-linejoin="round" textLength="56.48" lengthAdjust="spacing">115</text>
<text transform="scale(0.8772,1)" x="1925.85" y="919.27" font-size="26.53" font-weight="bold" fill="#df4f2f" stroke="#df4f2f" stroke-width="0.25" stroke-linejoin="round" textLength="74.51" lengthAdjust="spacing">-2,5%</text>
<circle cx="1678.60" cy="937.90" r="6.2" fill="#dd4a2b"/>
<text x="169.80" y="1011.75" font-size="23.26" font-weight="bold" fill="#151520" stroke="#151520" stroke-width="0.30" stroke-linejoin="round" textLength="88.70" lengthAdjust="spacingAndGlyphs">Fuente:</text><text x="264.82" y="1011.73" font-size="23.18" font-weight="normal" fill="#151520" stroke="#151520" stroke-width="0.35" stroke-linejoin="round" textLength="987.39" lengthAdjust="spacingAndGlyphs">INDEC, Dirección Nacional de Estadísticas del Sector Externo y Cuentas Internacionales.</text>
</svg>
</body></html>
